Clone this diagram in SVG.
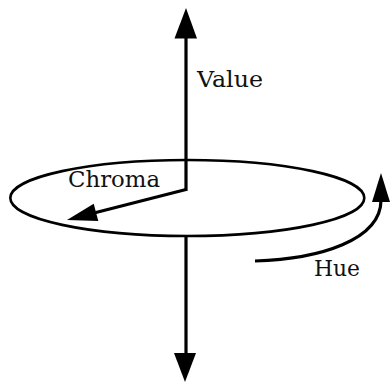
<svg xmlns="http://www.w3.org/2000/svg" width="390" height="383" viewBox="0 0 390 383">
<style>
.ln{stroke:#000;stroke-width:3.2;fill:none}
.hd{fill:#000;stroke:none}
.lb{font-family:"DejaVu Serif","Liberation Serif",serif;font-size:22px;fill:#111}
</style>
<rect width="390" height="383" fill="#fff"/>
<g id="connectors">
<line class="ln" x1="186" y1="36" x2="186" y2="191"/>
<polygon class="hd" points="186,8 174.5,38.5 197,38.5"/>
<line class="ln" x1="186" y1="236" x2="186" y2="356"/>
<polygon class="hd" points="185,382 174,353 196,353"/>
<line class="ln" x1="186" y1="189.5" x2="92" y2="213.5"/>
<polygon class="hd" points="67,220 93.7,203.7 98.3,221.1"/>
<path class="ln" d="M255,261 C320,259 381,240 381,200"/>
<polygon class="hd" points="381,173 372,202 390,202"/>
</g>
<g id="disc">
<ellipse cx="187.3" cy="198" rx="177" ry="38" fill="none" stroke="#000" stroke-width="2.6"/>
</g>
<g id="value"><text class="lb" x="197" y="87" textLength="66" lengthAdjust="spacingAndGlyphs">Value</text></g>
<g id="chroma"><text class="lb" x="68" y="187" textLength="92" lengthAdjust="spacingAndGlyphs">Chroma</text></g>
<g id="hue"><text class="lb" x="314" y="276" textLength="46" lengthAdjust="spacingAndGlyphs">Hue</text></g>
</svg>
